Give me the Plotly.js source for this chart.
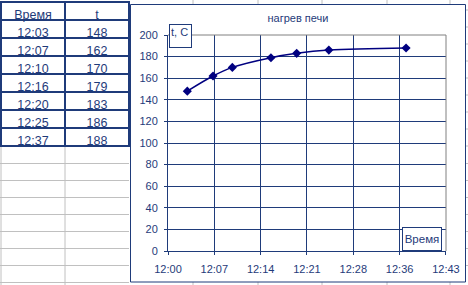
<!DOCTYPE html>
<html>
<head>
<meta charset="utf-8">
<script src="https://cdn.plot.ly/plotly-3.0.1.min.js"></script>
<style>
html,body{margin:0;padding:0;background:#fff;}
#chart{width:468px;height:285px;}
</style>
</head>
<body>
<div id="chart"></div>
<script>
// ---- data ----
var headers = ["Время", "t"];
var times = ["12:03", "12:07", "12:10", "12:16", "12:20", "12:25", "12:37"];
var temps = [148, 162, 170, 179, 183, 186, 188];
var chartTitle = "нагрев печи";
var yTitle = "t, C";
var xTitle = "Время";

var W = 468, H = 285;
function px(x){ return x / W; }
function py(y){ return 1 - y / H; }

var NAVY = "#1F3B7A";
var SERIES = "#000080";
var GRAY = "#C0C0C0";
var FONT = "Liberation Sans, Arial, sans-serif";

var xDates = times.map(function(t){ return "2000-01-01 " + t; });

var table = {
  type: "table",
  domain: {x: [px(1), px(129)], y: [0, py(2)]},
  columnwidth: [64, 64],
  header: {
    values: headers,
    height: 18,
    align: ["center", "center"],
    line: {color: NAVY, width: 2.5},
    fill: {color: "#ffffff"},
    font: {family: FONT, size: 12.5, color: NAVY}
  },
  cells: {
    values: [times, temps],
    height: 18,
    align: ["center", "center"],
    line: {color: NAVY, width: 2.5},
    fill: {color: "#ffffff"},
    font: {family: FONT, size: 12.5, color: NAVY}
  }
};

var series = {
  type: "scatter",
  mode: "lines+markers",
  x: xDates,
  y: temps,
  line: {color: SERIES, width: 1.5, shape: "spline", smoothing: 1},
  marker: {symbol: "diamond", size: 7, color: SERIES},
  hoverinfo: "x+y",
  showlegend: false
};

// spreadsheet background grid (decor)
var shapes = [];
[1, 65].forEach(function(x){
  shapes.push({type:"line", xref:"paper", yref:"paper", x0:px(x), x1:px(x), y0:py(146), y1:py(285), line:{color:GRAY, width:1}, layer:"below"});
});
[163.5, 180.5, 197.5, 214.5, 231.5, 248.5, 265.5, 282.5].forEach(function(y){
  shapes.push({type:"line", xref:"paper", yref:"paper", x0:0, x1:px(129), y0:py(y), y1:py(y), line:{color:GRAY, width:1}, layer:"below"});
});
[193, 258, 322, 387, 450].forEach(function(x){
  shapes.push({type:"line", xref:"paper", yref:"paper", x0:px(x), x1:px(x), y0:py(0), y1:py(4), line:{color:GRAY, width:1}, layer:"below"});
  shapes.push({type:"line", xref:"paper", yref:"paper", x0:px(x), x1:px(x), y0:py(282), y1:py(285), line:{color:GRAY, width:1}, layer:"below"});
});
[10, 27, 44, 61, 78, 95, 112, 129, 146, 163.5, 180.5, 197.5, 214.5, 231.5, 248.5, 265.5].forEach(function(y){
  shapes.push({type:"line", xref:"paper", yref:"paper", x0:px(465), x1:1, y0:py(y), y1:py(y), line:{color:GRAY, width:1}, layer:"below"});
});
// chart frame
shapes.push({type:"rect", xref:"paper", yref:"paper", x0:px(130.5), x1:px(465.5), y0:py(4.5), y1:py(282), line:{color:NAVY, width:1}, fillcolor:"rgba(0,0,0,0)", layer:"below"});
// plot-area border (top and right, gray)
shapes.push({type:"line", xref:"x domain", yref:"y domain", x0:0, x1:1, y0:1, y1:1, line:{color:"#808080", width:1}, layer:"above"});
shapes.push({type:"line", xref:"x domain", yref:"y domain", x0:1, x1:1, y0:0, y1:1, line:{color:"#808080", width:1}, layer:"above"});

var layout = {
  width: W, height: H,
  margin: {l:0, r:0, t:0, b:0, pad:0},
  paper_bgcolor: "#ffffff",
  plot_bgcolor: "#ffffff",
  showlegend: false,
  font: {family: FONT, size: 11, color: NAVY},
  title: {
    text: chartTitle,
    x: px(298), xref: "paper", xanchor: "center",
    y: py(18), yref: "paper", yanchor: "middle",
    font: {family: FONT, size: 11, color: NAVY}
  },
  xaxis: {
    type: "date",
    domain: [px(168), px(446)],
    range: ["2000-01-01 12:00:00", "2000-01-01 12:43:12.5"],
    tick0: "2000-01-01 12:00:00",
    dtick: 432000,
    tickformat: "%H:%M",
    showgrid: true, gridcolor: NAVY, gridwidth: 1,
    showline: true, linecolor: NAVY, linewidth: 1,
    ticks: "outside", ticklen: 3, tickcolor: NAVY, tickwidth: 1,
    ticklabelstandoff: 5,
    zeroline: false,
    tickfont: {family: FONT, size: 11, color: NAVY},
    fixedrange: true
  },
  yaxis: {
    domain: [py(251), py(35)],
    range: [0, 200],
    dtick: 20,
    showgrid: true, gridcolor: NAVY, gridwidth: 1,
    showline: true, linecolor: NAVY, linewidth: 1,
    ticks: "outside", ticklen: 3, tickcolor: NAVY, tickwidth: 1,
    ticklabelstandoff: 4,
    zeroline: false,
    tickfont: {family: FONT, size: 11, color: NAVY},
    fixedrange: true
  },
  shapes: shapes,
  annotations: [
    {
      text: yTitle, showarrow: false,
      xref: "paper", yref: "paper",
      x: px(169), y: py(24), xanchor: "left", yanchor: "top",
      width: 19, height: 20, align: "left", valign: "top",
      bordercolor: NAVY, borderwidth: 1, borderpad: 1, bgcolor: "#ffffff",
      font: {family: FONT, size: 11, color: NAVY}
    },
    {
      text: xTitle, showarrow: false,
      xref: "paper", yref: "paper",
      x: px(402), y: py(227), xanchor: "left", yanchor: "top",
      width: 36, height: 20, align: "center", valign: "middle",
      bordercolor: NAVY, borderwidth: 1, borderpad: 1, bgcolor: "#ffffff",
      font: {family: FONT, size: 11.5, color: NAVY}
    }
  ]
};

Plotly.newPlot("chart", [table, series], layout, {displayModeBar: false, staticPlot: true});
</script>
</body>
</html>
